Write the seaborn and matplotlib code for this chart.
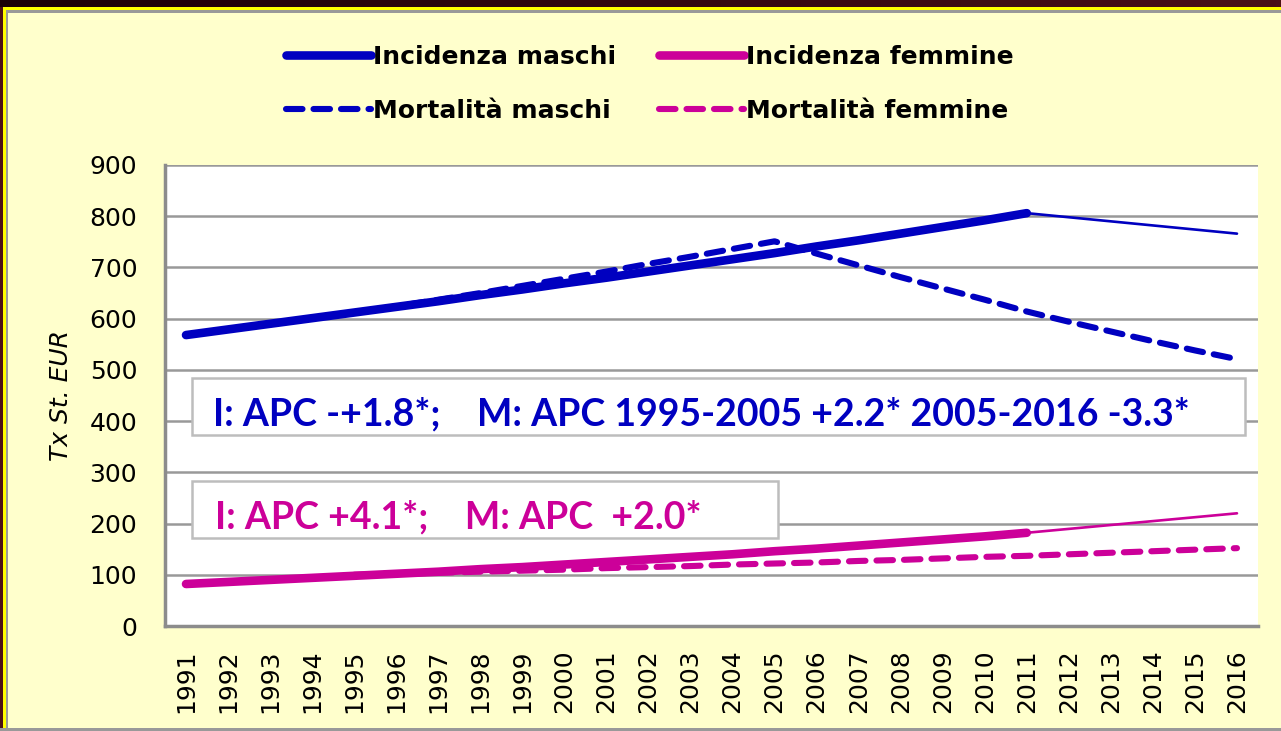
import numpy as np
import pandas as pd
import matplotlib
matplotlib.use("Agg")
import matplotlib.pyplot as plt
import seaborn as sns
from matplotlib.patches import Rectangle
from matplotlib.colors import LinearSegmentedColormap

# ---------------- data ----------------
year_labels = [str(y) for y in range(1991, 2017)]

inc_m_years = list(range(1991, 2012))
inc_m_fit = [568, 579, 590, 601, 612, 623, 634, 646, 657, 669, 680,
             692, 704, 716, 728, 741, 753, 766, 779, 792, 806]
inc_m_tail_years = [2011, 2016]
inc_m_tail = [806, 766]

mort_m_years = list(range(1995, 2017))
mort_m = [612, 624, 637, 650, 664, 678, 692, 707, 721, 736, 751,
          727, 704, 681, 659, 637, 614, 594, 575, 556, 538, 521]

inc_f_years = list(range(1991, 2012))
inc_f_fit = [82, 86, 90, 94, 98, 102, 106, 111, 115, 120, 125,
             130, 135, 140, 146, 151, 157, 163, 169, 175, 182]
inc_f_tail_years = [2011, 2016]
inc_f_tail = [182, 220]

mort_f_years = list(range(1995, 2017))
mort_f = [100, 102, 104, 106, 108, 110, 113, 115, 117, 120, 122,
          124, 127, 129, 132, 135, 137, 140, 143, 146, 149, 152]

labels = ["Incidenza maschi", "Mortalità maschi", "Incidenza femmine", "Mortalità femmine"]
note_m = "I: APC -+1.8*;    M: APC 1995-2005 +2.2* 2005-2016 -3.3*"
note_f = "I: APC +4.1*;    M: APC  +2.0*"
ylabel = "Tx St. EUR"

BLUE = "#0000C0"
MAG = "#CC0099"
CREAM = "#FFFFCC"
GRAY = "#8C8C8C"

W, H = 1281, 731
sns.set_theme(style="white")
plt.rcParams["font.family"] = ["DejaVu Sans"]
plt.rcParams["text.color"] = "black"
plt.rcParams["axes.labelcolor"] = "black"
plt.rcParams["xtick.color"] = "black"
plt.rcParams["ytick.color"] = "black"

fig = plt.figure(figsize=(W / 100, H / 100), dpi=100, facecolor=CREAM)
ax = fig.add_axes([165 / W, 1 - 626 / H, (1258 - 165) / W, (626 - 165) / H])
ax.set_facecolor("white")

def idx(years):
    return [y - 1991 for y in years]

def draw(xs, ys, color, lw, dashed=False):
    sns.lineplot(x=idx(xs), y=ys, ax=ax, color=color, linewidth=lw, errorbar=None, sort=False)
    ln = ax.lines[-1]
    ln.set_solid_capstyle("round")
    ln.set_solid_joinstyle("round")
    if dashed:
        ln.set_dashes((2.7, 1.8))
        ln.set_dash_capstyle("round")
    return ln

THICK, THIN, DASH = 6.2, 1.9, 4.4
h_im = draw(inc_m_years, inc_m_fit, BLUE, THICK)
draw(inc_m_tail_years, inc_m_tail, BLUE, THIN)
h_mm = draw(mort_m_years, mort_m, BLUE, DASH, dashed=True)
h_if = draw(inc_f_years, inc_f_fit, MAG, THICK)
draw(inc_f_tail_years, inc_f_tail, MAG, THIN)
h_mf = draw(mort_f_years, mort_f, MAG, DASH, dashed=True)

ax.set_xlim(-0.5, 25.5)
ax.set_ylim(0, 900)
ax.set_yticks(range(0, 901, 100))
ax.yaxis.grid(True, color="#999999", linewidth=1.8)
ax.set_axisbelow(True)
ax.set_xticks(np.arange(len(year_labels)))
ax.set_xticklabels(year_labels, rotation=90, fontsize=18)
ax.set_xticks(np.arange(-0.5, 25.6, 1), minor=True)
ax.tick_params(axis="x", which="major", length=0, pad=17)
ax.tick_params(axis="x", which="minor", length=8, width=1.8, color=GRAY, direction="out")
ax.tick_params(axis="y", length=6, width=1.8, color=GRAY, direction="out", pad=14, labelsize=18)
for s in ["top", "right"]:
    ax.spines[s].set_visible(False)
for s in ["left", "bottom"]:
    ax.spines[s].set_color(GRAY)
    ax.spines[s].set_linewidth(2.5)
ax.set_xlabel("")
ax.set_ylabel(ylabel, fontsize=18, style="italic")
ax.yaxis.set_label_coords((73 - 165) / (1258 - 165), 0.5)

# legend
leg = fig.legend([h_im, h_mm, h_if, h_mf], labels, ncol=2, frameon=False,
                 loc="upper left", bbox_to_anchor=(273 / W, 1 - 32 / H),
                 prop={"weight": "bold", "size": 18}, handlelength=3.4,
                 handletextpad=0.1, columnspacing=1.7, labelspacing=1.2, borderpad=0)

def fx(x):
    return x / W

def fy(y):
    return 1 - y / H

# annotation boxes
fig.patches.append(Rectangle((fx(192), fy(435)), fx(1245) - fx(192), fy(378) - fy(435),
                             transform=fig.transFigure, facecolor="white",
                             edgecolor="#BDBDBD", linewidth=1.8, zorder=2))
fig.text(fx(213), fy(414), note_m, color=BLUE, fontsize=27, fontweight="bold",
         family=["Lato", "DejaVu Sans"], va="center", ha="left", zorder=3)
fig.patches.append(Rectangle((fx(192), fy(538)), fx(778) - fx(192), fy(481) - fy(538),
                             transform=fig.transFigure, facecolor="white",
                             edgecolor="#BDBDBD", linewidth=1.8, zorder=2))
fig.text(fx(215), fy(517), note_f, color=MAG, fontsize=27, fontweight="bold",
         family=["Lato", "DejaVu Sans"], va="center", ha="left", zorder=3)

# frame decorations
band = fig.add_axes([0, fy(7), 1, 7 / H], zorder=5)
cmap = LinearSegmentedColormap.from_list("b", ["#1c0006", "#4a1016"])
band.imshow(np.linspace(0, 1, 256)[None, :], aspect="auto", cmap=cmap)
band.axis("off")
fig.patches.append(Rectangle((0, fy(10)), 1, 3 / H, transform=fig.transFigure,
                             facecolor="#FFFF00", edgecolor="none", zorder=4))
fig.patches.append(Rectangle((0, fy(13)), 1, 3 / H, transform=fig.transFigure,
                             facecolor="#999999", edgecolor="none", zorder=4))
fig.patches.append(Rectangle((0, 0), fx(3), 1, transform=fig.transFigure,
                             facecolor="#4a1016", edgecolor="none", zorder=4))
fig.patches.append(Rectangle((fx(3), 0), fx(2.5), fy(7), transform=fig.transFigure,
                             facecolor="#FFFF00", edgecolor="none", zorder=4))
fig.patches.append(Rectangle((fx(5.5), 0), fx(2.5), fy(10), transform=fig.transFigure,
                             facecolor="#999999", edgecolor="none", zorder=4))
fig.patches.append(Rectangle((0, 0), 1, 3 / H, transform=fig.transFigure,
                             facecolor="#999999", edgecolor="none", zorder=4))

fig.savefig("out.png", dpi=100, facecolor=CREAM)
